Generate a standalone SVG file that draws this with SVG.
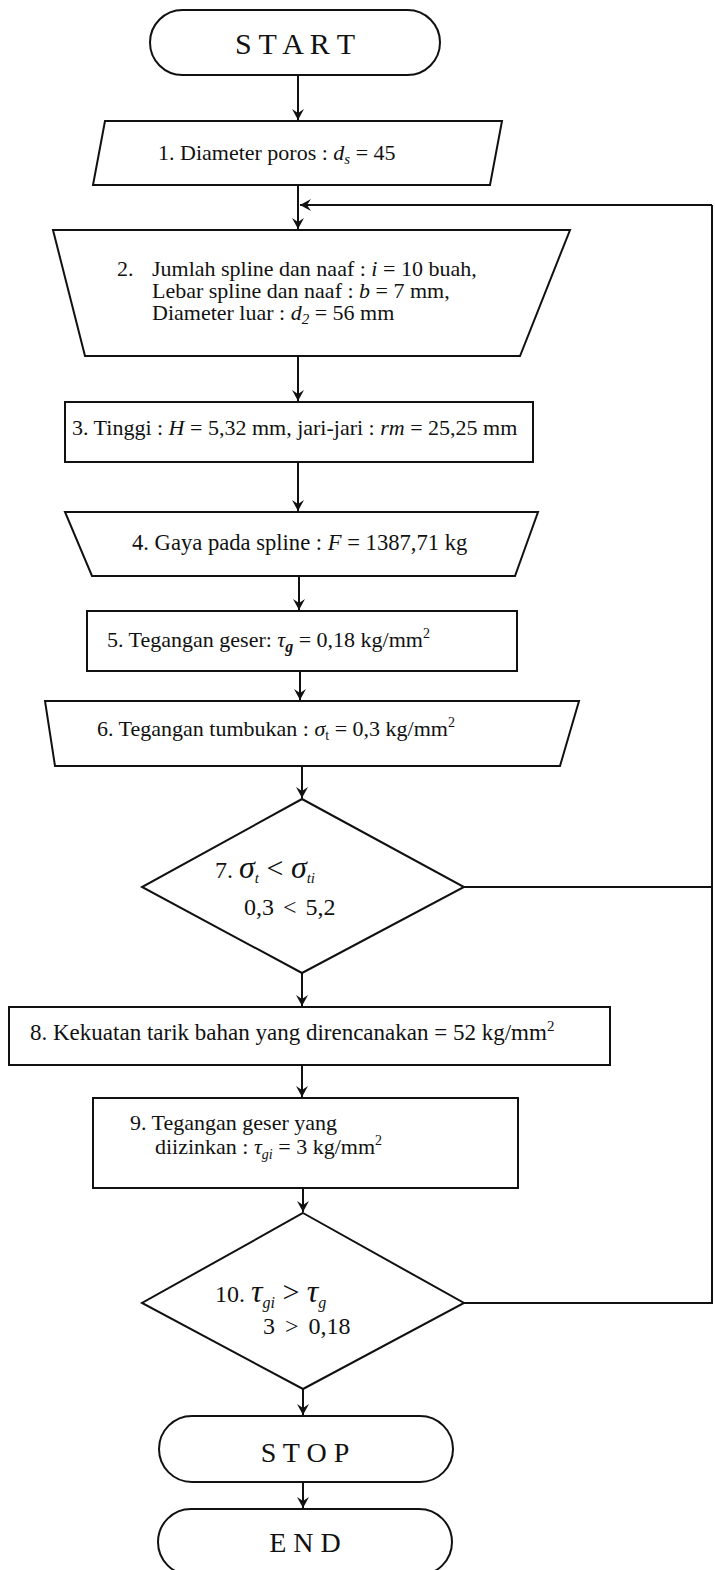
<svg xmlns="http://www.w3.org/2000/svg" width="715" height="1570" viewBox="0 0 715 1570">
<defs>
<marker id="ah" viewBox="0 0 12 12" refX="11" refY="6" markerWidth="12" markerHeight="12" markerUnits="userSpaceOnUse" orient="auto">
<path d="M0,0 L11,6 L0,12 L4,6 Z" fill="#111"/>
</marker>
<style>
.s{fill:#fff;stroke:#111;stroke-width:2}
.c{fill:none;stroke:#111;stroke-width:2}
.t{font-family:"Liberation Serif","Times New Roman",serif;font-size:22px;fill:#111}
.i{font-style:italic}
.big{font-family:"Liberation Serif",serif;font-style:italic;font-size:32px}
</style>
</defs>
<rect width="715" height="1570" fill="#fff"/>
<g id="connectors">
<line class="c" x1="298" y1="75" x2="298" y2="120" marker-end="url(#ah)"/>
<line class="c" x1="298" y1="185" x2="298" y2="229" marker-end="url(#ah)"/>
<line class="c" x1="712" y1="205" x2="300" y2="205" marker-end="url(#ah)"/>
<line class="c" x1="298" y1="356" x2="298" y2="401" marker-end="url(#ah)"/>
<line class="c" x1="298" y1="462" x2="298" y2="511" marker-end="url(#ah)"/>
<line class="c" x1="299" y1="576" x2="299" y2="610" marker-end="url(#ah)"/>
<line class="c" x1="300" y1="671" x2="300" y2="700" marker-end="url(#ah)"/>
<line class="c" x1="302" y1="766" x2="302" y2="798" marker-end="url(#ah)"/>
<line class="c" x1="302" y1="973" x2="302" y2="1006" marker-end="url(#ah)"/>
<line class="c" x1="302" y1="1065" x2="302" y2="1097" marker-end="url(#ah)"/>
<line class="c" x1="303" y1="1188" x2="303" y2="1212" marker-end="url(#ah)"/>
<line class="c" x1="303" y1="1389" x2="303" y2="1415" marker-end="url(#ah)"/>
<line class="c" x1="303" y1="1482" x2="303" y2="1508" marker-end="url(#ah)"/>
<polyline class="c" points="464,887 712,887"/>
<polyline class="c" points="464,1303 712,1303 712,205"/>
</g>
<g id="start">
<rect class="s" x="150" y="10" width="290" height="65" rx="32.5"/>
<text class="t" x="295" y="54" text-anchor="middle" style="font-size:30px">S T A R T</text>
</g>
<g id="n1">
<polygon class="s" points="105,121 502,121 490,185 93,185"/>
<text class="t" x="158" y="160">1. Diameter poros : <tspan class="i">d</tspan><tspan class="i" font-size="15" dy="4">s</tspan><tspan dy="-4"> = 45</tspan></text>
</g>
<g id="n2">
<polygon class="s" points="53,230 570,230 520,356 85,356"/>
<text class="t" x="117" y="276">2.</text>
<text class="t" x="152" y="276">Jumlah spline dan naaf : <tspan class="i">i</tspan> = 10 buah,</text>
<text class="t" x="152" y="298">Lebar spline dan naaf : <tspan class="i">b</tspan> = 7 mm,</text>
<text class="t" x="152" y="320" fill="#333">Diameter luar : <tspan class="i">d</tspan><tspan class="i" font-size="15" dy="4">2</tspan><tspan dy="-4"> = 56 mm</tspan></text>
</g>
<g id="n3">
<rect class="s" x="65" y="402" width="468" height="60"/>
<text class="t" x="72" y="435">3. Tinggi : <tspan class="i">H</tspan> = 5,32 mm, jari-jari : <tspan class="i">rm</tspan> = 25,25 mm</text>
</g>
<g id="n4">
<polygon class="s" points="65,512 538,512 515,576 92,576"/>
<text class="t" x="132" y="550" style="font-size:22.6px">4. Gaya pada spline : <tspan class="i">F</tspan> = 1387,71 kg</text>
</g>
<g id="n5">
<rect class="s" x="87" y="611" width="430" height="60"/>
<text class="t" x="107" y="647">5. Tegangan geser: <tspan class="i">τ</tspan><tspan class="i" font-weight="bold" font-size="16" dy="5">g</tspan><tspan dy="-5"> = 0,18 kg/mm</tspan><tspan font-size="14" dy="-9">2</tspan></text>
</g>
<g id="n6">
<polygon class="s" points="45,701 579,701 560,766 55,766"/>
<text class="t" x="97" y="736">6. Tegangan tumbukan :  <tspan class="i">σ</tspan><tspan font-size="14" dy="4">t</tspan><tspan dy="-4"> = 0,3 kg/mm</tspan><tspan font-size="14" dy="-9">2</tspan></text>
</g>
<g id="n7">
<polygon class="s" points="302,799 464,887 302,973 142,887"/>
<text class="t" x="215" y="878" style="font-size:24px">7.  <tspan class="big">σ</tspan><tspan class="i" font-size="15" dy="5">t</tspan><tspan dy="-5" font-size="30"> &lt; </tspan><tspan class="big">σ</tspan><tspan class="i" font-size="15" dy="5">ti</tspan></text>
<text class="t" x="244" y="915" style="font-size:24px;word-spacing:3px">0,3 &lt; 5,2</text>
</g>
<g id="n8">
<rect class="s" x="9" y="1007" width="601" height="58"/>
<text class="t" x="30" y="1040" style="font-size:23px">8. Kekuatan tarik bahan yang direncanakan = 52 kg/mm<tspan font-size="15" dy="-9">2</tspan></text>
</g>
<g id="n9">
<rect class="s" x="93" y="1098" width="425" height="90"/>
<text class="t" x="130" y="1130">9. Tegangan geser yang</text>
<text class="t" x="155" y="1154">diizinkan : <tspan class="i">τ</tspan><tspan class="i" font-size="14" dy="5">gi</tspan><tspan dy="-5"> = 3 kg/mm</tspan><tspan font-size="14" dy="-9">2</tspan></text>
</g>
<g id="n10">
<polygon class="s" points="303,1213 464,1303 303,1389 142,1303"/>
<text class="t" x="215" y="1302" style="font-size:24px">10.  <tspan class="big">τ</tspan><tspan class="i" font-size="16" dy="6">gi</tspan><tspan dy="-6" font-size="30"> &gt; </tspan><tspan class="big">τ</tspan><tspan class="i" font-size="16" dy="6">g</tspan></text>
<text class="t" x="263" y="1334" style="font-size:24px;word-spacing:4px">3  &gt; 0,18</text>
</g>
<g id="stop">
<rect class="s" x="159" y="1416" width="294" height="66" rx="33"/>
<text class="t" x="305" y="1462" text-anchor="middle" style="font-size:28px">S T O P</text>
</g>
<g id="end">
<rect class="s" x="158" y="1509" width="294" height="66" rx="33"/>
<text class="t" x="305" y="1552" text-anchor="middle" style="font-size:28px">E N D</text>
</g>
</svg>
